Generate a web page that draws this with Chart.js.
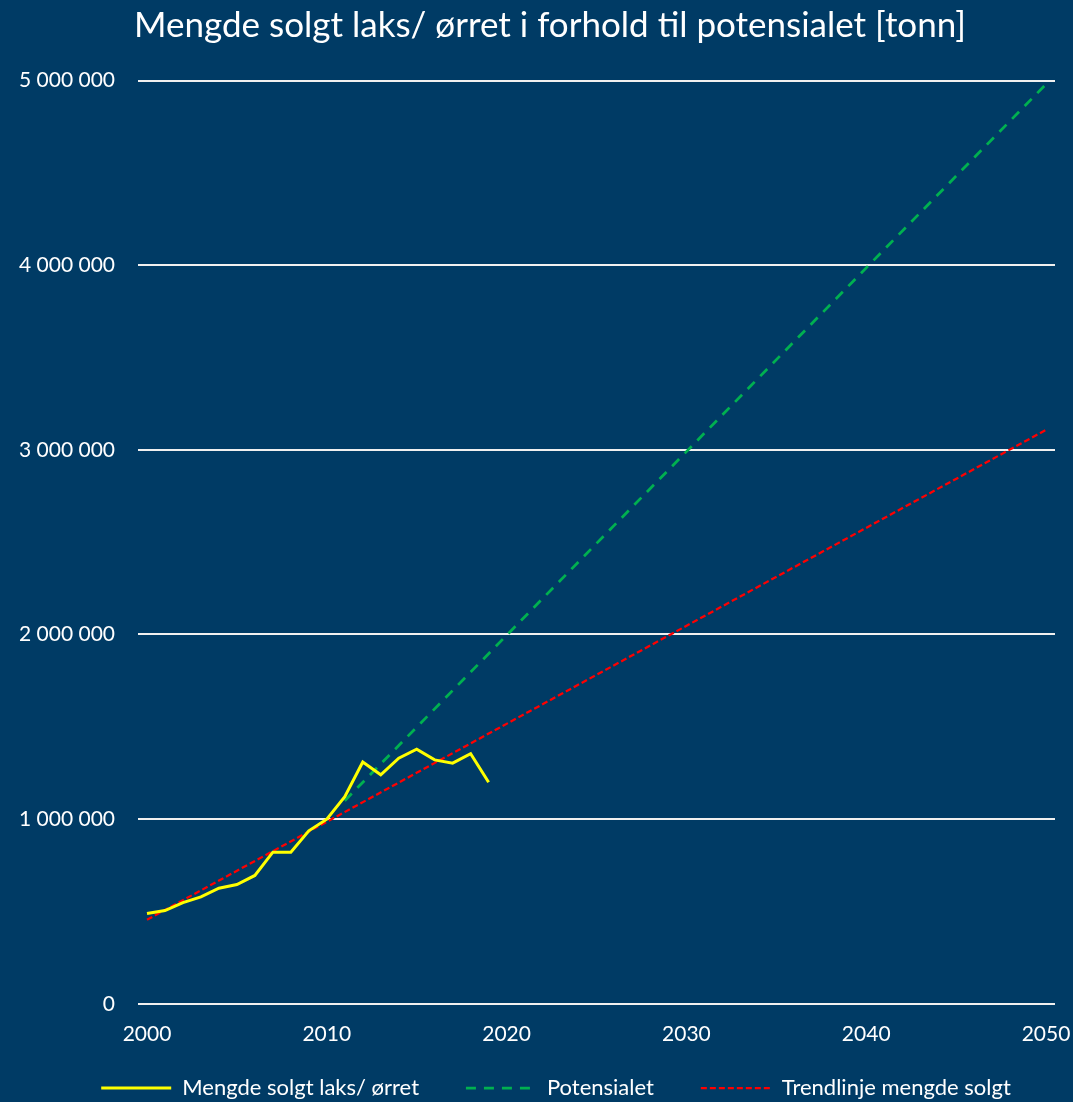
<!DOCTYPE html>
<html>
<head>
<meta charset="utf-8">
<script src="https://cdn.jsdelivr.net/npm/chart.js@4.4.1/dist/chart.umd.min.js"></script>
<style>
  html, body { margin: 0; padding: 0; background: #003B65; }
  #wrap { width: 1073px; height: 1102px; }
</style>
</head>
<body>
<div id="wrap"><canvas id="chart" width="1073" height="1102"></canvas></div>
<script>
// Years on the category axis
const years = [];
for (let y = 2000; y <= 2050; y++) years.push(String(y));

// Mengde solgt laks/ ørret, 2000-2019 [tonn]
const solgtYears = ['2000', '2001', '2002', '2003', '2004', '2005', '2006', '2007', '2008', '2009',
  '2010', '2011', '2012', '2013', '2014', '2015', '2016', '2017', '2018', '2019'];
const solgt = [489000, 505000, 548000, 579000, 626000, 646000, 695000, 821000, 821000, 937000,
  1000000, 1122000, 1309000, 1240000, 1330000, 1379000, 1321000, 1303000, 1354000, 1200000];

// Potensialet (start and end points of the line)
const potensialYears = ['2011', '2050'];
const potensial = [1100000, 4980000];

// Trendlinje mengde solgt (start and end points)
const trendYears = ['2000', '2050'];
const trend = [455000, 3108000];

function toSeries(keys, values) {
  return years.map(y => {
    const i = keys.indexOf(y);
    return i >= 0 ? values[i] : null;
  });
}

const font = 'Lato, "Open Sans", sans-serif';
const white = '#ffffff';

// nudge title and legend to the right, like the original layout
const shiftBoxes = {
  id: 'shiftBoxes',
  afterLayout(chart) {
    chart.titleBlock.left += 15;
    chart.titleBlock.right += 15;
    chart.legend.left += 21;
    chart.legend.right += 21;
  }
};

const ctx = document.getElementById('chart').getContext('2d');

new Chart(ctx, {
  type: 'line',
  data: {
    labels: years,
    datasets: [
      {
        label: 'Mengde solgt laks/ ørret',
        data: toSeries(solgtYears, solgt),
        borderColor: '#FFFF00',
        backgroundColor: '#FFFF00',
        borderWidth: 3,
        pointRadius: 0,
        tension: 0,
        spanGaps: false
      },
      {
        label: 'Potensialet',
        data: toSeries(potensialYears, potensial),
        borderColor: '#00B050',
        backgroundColor: '#00B050',
        borderWidth: 2.75,
        borderDash: [10, 8],
        pointRadius: 0,
        spanGaps: true
      },
      {
        label: 'Trendlinje mengde solgt',
        data: toSeries(trendYears, trend),
        borderColor: '#FF0000',
        backgroundColor: '#FF0000',
        borderWidth: 2.25,
        borderDash: [6, 3],
        pointRadius: 0,
        spanGaps: true
      }
    ]
  },
  options: {
    responsive: false,
    animation: false,
    layout: {
      padding: { left: 15, right: 18, top: 0, bottom: -7 }
    },
    plugins: {
      title: {
        display: true,
        text: 'Mengde solgt laks/ ørret i forhold til potensialet [tonn]',
        color: white,
        font: { family: font, size: 35, weight: 'normal' },
        padding: { top: 4.5, bottom: 34 }
      },
      legend: {
        position: 'bottom',
        labels: {
          color: white,
          font: { family: font, size: 22 },
          usePointStyle: true,
          pointStyle: 'line',
          pointStyleWidth: 70,
          boxHeight: 22,
          padding: 30,
          generateLabels: chart => Chart.defaults.plugins.legend.labels.generateLabels(chart).map((item, i) => {
            const ds = chart.data.datasets[item.datasetIndex];
            item.lineDash = ds.borderDash || [];
            item.lineWidth = ds.borderWidth;
            item.strokeStyle = ds.borderColor;
            if (i < 2) item.text += '   ';
            return item;
          })
        }
      },
      tooltip: { enabled: false }
    },
    scales: {
      x: {
        type: 'category',
        offset: true,
        grid: {
          display: true,
          drawOnChartArea: false,
          drawTicks: true,
          tickLength: 18,
          color: 'rgba(0,0,0,0)'
        },
        border: { display: false },
        ticks: {
          color: white,
          font: { family: font, size: 21 },
          autoSkip: false,
          maxRotation: 0,
          padding: 0,
          callback: function (value) {
            const label = this.getLabelForValue(value);
            return Number(label) % 10 === 0 ? label : '';
          }
        }
      },
      y: {
        min: 0,
        max: 5000000,
        afterFit: scale => { scale.width = 123; },
        grid: { color: '#f0f0f0', lineWidth: 2, drawTicks: false },
        border: { display: false },
        ticks: {
          stepSize: 1000000,
          color: white,
          font: { family: font, size: 21 },
          padding: 23,
          callback: v => String(v).replace(/\B(?=(\d{3})+(?!\d))/g, ' ')
        }
      }
    }
  },
  plugins: [shiftBoxes]
});
</script>
</body>
</html>
